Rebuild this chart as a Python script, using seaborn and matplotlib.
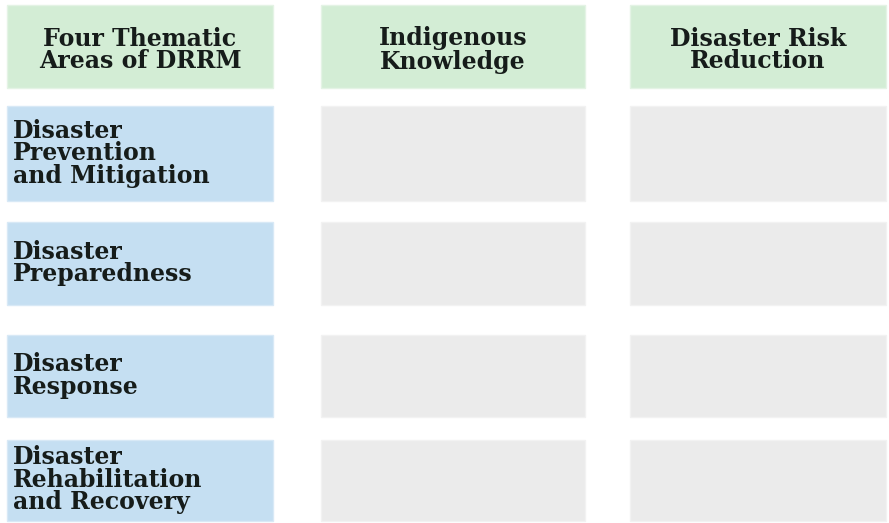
import matplotlib
matplotlib.use("Agg")
import matplotlib.pyplot as plt
import seaborn as sns

# table content
headers = ["Four Thematic\nAreas of DRRM", "Indigenous\nKnowledge", "Disaster Risk\nReduction"]
row_labels = [
    "Disaster\nPrevention\nand Mitigation",
    "Disaster\nPreparedness",
    "Disaster\nResponse",
    "Disaster\nRehabilitation\nand Recovery",
]

# layout (pixels of the 889x523 canvas)
COL_X = [(7, 273), (321, 585), (630, 886)]
ROW_Y = [(5, 88), (106, 201), (222, 305), (335, 417), (440, 521)]

GREEN = "#d3edd5"
BLUE = "#c5dff2"
GRAY = "#ebebeb"
TEXT = "#161c1a"


def put_lines(ax, text, x, y0, y1, ha, off, step):
    lines = text.split("\n")
    mid = (y0 + y1) / 2 + off
    n = len(lines)
    for i, line in enumerate(lines):
        y = mid + (i - (n - 1) / 2) * step
        ax.text(x, y, line, ha=ha, va="baseline", fontsize=17,
                fontweight="bold", color=TEXT)


def main():
    sns.set_theme(style="white")
    plt.rcParams["font.family"] = ["DejaVu Serif"]

    fig = plt.figure(figsize=(8.89, 5.23), dpi=100)
    ax = fig.add_axes([0, 0, 1, 1])
    ax.set_xlim(0, 889)
    ax.set_ylim(523, 0)
    ax.axis("off")

    # header row
    for j, (x0, x1) in enumerate(COL_X):
        y0, y1 = ROW_Y[0]
        ax.bar(x0, y1 - y0, width=x1 - x0, bottom=y0, align="edge",
               color=GREEN, edgecolor="#e4f3e5", linewidth=1)
        put_lines(ax, headers[j], (x0 + x1) / 2, y0, y1, "center", 10.5, 23)

    # body rows
    for i, label in enumerate(row_labels):
        y0, y1 = ROW_Y[i + 1]
        for j, (x0, x1) in enumerate(COL_X):
            c = BLUE if j == 0 else GRAY
            ec = "#d8e9f6" if j == 0 else "#f2f2f2"
            ax.bar(x0, y1 - y0, width=x1 - x0, bottom=y0, align="edge",
                   color=c, edgecolor=ec, linewidth=1)
        x0 = COL_X[0][0]
        put_lines(ax, label, x0 + 6, y0, y1, "left", 6.5, 22.5)

    fig.savefig("out.png", dpi=100, facecolor="white")


if __name__ == "__main__":
    main()
